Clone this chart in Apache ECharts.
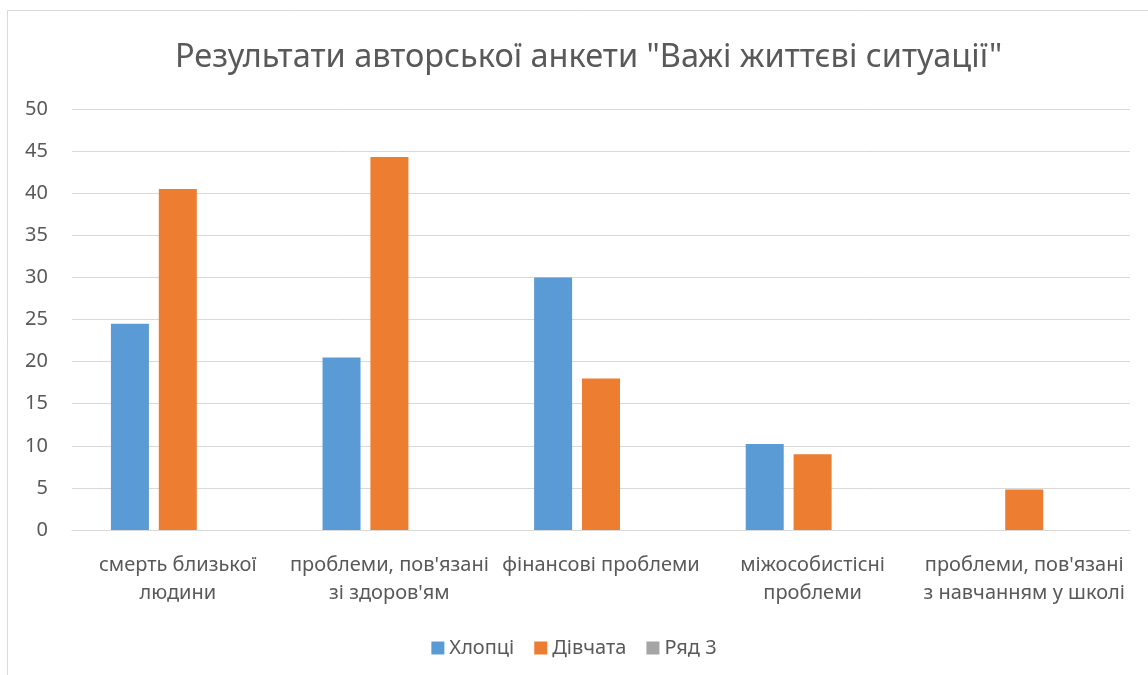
<!DOCTYPE html>
<html><head><meta charset="utf-8">
<script src="https://cdn.jsdelivr.net/npm/echarts@6/dist/echarts.min.js"></script>
<style>html,body{margin:0;padding:0;background:#fff}#c{width:1148px;height:675px}</style>
</head><body><div id="c"></div>
<script>
const categories = ["смерть близької\nлюдини", "проблеми, пов'язані\nзі здоров'ям", "фінансові проблеми", "міжособистісні\nпроблеми", "проблеми, пов'язані\nз навчанням у школі"];
const boys = [24.5, 20.5, 30, 10.2, null];
const girls = [40.5, 44.3, 18, 9, 4.8];
const row3 = [null, null, null, null, null];
const seriesNames = ["Хлопці", "Дівчата", "Ряд 3"];
const titleText = "Результати авторської анкети \"Важі життєві ситуації\"";

const FONT = "Noto Sans";
const chart = echarts.init(document.getElementById('c'), null, {renderer: 'canvas'});
chart.setOption({
  animation: false,
  textStyle: {fontFamily: FONT},
  graphic: [{type: 'rect', shape: {x: 7.5, y: 10.5, width: 1200, height: 700}, style: {fill: 'none', stroke: '#D9D9D9', lineWidth: 1}, silent: true}],
  title: {text: titleText, left: 170, top: 36, textStyle: {fontFamily: FONT, fontSize: 32.5, fontWeight: 'normal', color: '#595959'}},
  legend: {top: 633, left: 'center', itemWidth: 13, itemHeight: 13, itemGap: 20, icon: 'rect',
    textStyle: {fontFamily: FONT, fontSize: 20, color: '#595959'},
    data: seriesNames},
  grid: {left: 72, right: 18, top: 109, bottom: 145},
  xAxis: {type: 'category', data: categories,
    axisLine: {lineStyle: {color: '#D9D9D9', width: 1}}, axisTick: {show: false},
    axisLabel: {interval: 0, fontFamily: FONT, fontSize: 20, color: '#595959', lineHeight: 28, margin: 21}},
  yAxis: {type: 'value', min: 0, max: 50, interval: 5,
    axisLine: {show: false}, axisTick: {show: false},
    splitLine: {lineStyle: {color: '#D9D9D9', width: 1}},
    axisLabel: {fontFamily: FONT, fontSize: 20, color: '#595959', margin: 24}},
  series: [
    {name: seriesNames[0], type: 'bar', data: boys, barWidth: 38, barGap: '26%', barCategoryGap: '37%', itemStyle: {color: '#5B9BD5'}},
    {name: seriesNames[1], type: 'bar', data: girls, barWidth: 38, barGap: '26%', itemStyle: {color: '#ED7D31'}},
    {name: seriesNames[2], type: 'bar', data: row3, barWidth: 38, barGap: '26%', itemStyle: {color: '#A5A5A5'}}
  ]
});
</script></body></html>
